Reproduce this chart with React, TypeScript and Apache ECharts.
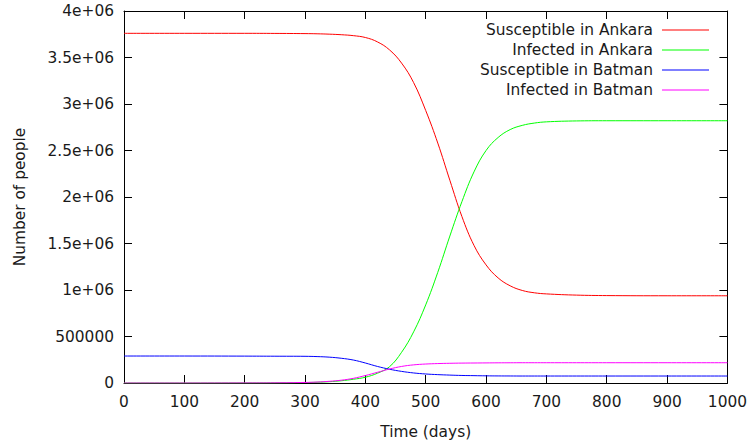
import React, { useEffect, useRef } from 'react';
import * as echarts from 'echarts';

const days = [0, 100, 200, 250, 300, 320, 340, 360, 380, 400, 420, 440, 460, 480, 500, 520, 540, 560, 580, 600, 620, 640, 660, 680, 700, 750, 800, 900, 1000];

const susceptibleAnkara = [3760000, 3760000, 3760000, 3759000, 3757000, 3755000, 3751000, 3745000, 3735000, 3715000, 3668000, 3582000, 3440000, 3230000, 2930000, 2580000, 2180000, 1790000, 1480000, 1270000, 1130000, 1045000, 995000, 970000, 958000, 945000, 940000, 938000, 938000];

const infectedAnkara = [0, 0, 1000, 2000, 5000, 8000, 14000, 24000, 40000, 62000, 105000, 175000, 330000, 550000, 840000, 1190000, 1580000, 1950000, 2270000, 2500000, 2640000, 2725000, 2770000, 2795000, 2808000, 2818000, 2820000, 2820000, 2820000];

const susceptibleBatman = [290000, 290000, 289000, 288000, 287000, 284000, 278000, 266000, 247000, 215000, 178000, 148000, 125000, 108000, 97000, 90000, 85000, 81000, 79000, 77000, 76000, 75500, 75000, 75000, 75000, 75000, 75000, 75000, 75000];

const infectedBatman = [0, 0, 1000, 2000, 6000, 10000, 18000, 30000, 50000, 80000, 115000, 150000, 178000, 195000, 204000, 209000, 212000, 214000, 215000, 216000, 217000, 217500, 218000, 218000, 218000, 218000, 218000, 218000, 218000];

const seriesNames = ['Susceptible in Ankara', 'Infected in Ankara', 'Susceptible in Batman', 'Infected in Batman'];
const seriesColors = ['#ff0000', '#00ff00', '#0000ff', '#ff00ff'];

const xAxisTitle = 'Time (days)';
const yAxisTitle = 'Number of people';

function formatY(v: number): string {
  if (v === 0) return '0';
  if (v < 1000000) return String(v);
  return (v / 1000000) + 'e+06';
}

export default function App() {
  const ref = useRef<HTMLDivElement>(null);
  useEffect(() => {
    document.body.style.margin = '0';
    const chart = echarts.init(ref.current!, null, { renderer: 'svg' });
    const font = 'DejaVu Sans';
    const fs = 15.4;
    const textColor = '#1a1a1a';
    const values = [susceptibleAnkara, infectedAnkara, susceptibleBatman, infectedBatman];
    const series = values.map((vals, k) => ({
      name: seriesNames[k],
      type: 'line',
      data: days.map((d, i) => [d, vals[i]]),
      showSymbol: false,
      symbol: 'none',
      smooth: 0.4,
      lineStyle: { color: seriesColors[k], width: 1 },
      itemStyle: { color: seriesColors[k] },
      z: 2 + k,
    }));
    const mkLine = () => ({ show: true, onZero: false, lineStyle: { color: '#000', width: 1 } });
    const mkTick = () => ({ show: true, inside: true, length: 8, lineStyle: { color: '#000', width: 1 } });
    chart.setOption({
      animation: false,
      backgroundColor: '#ffffff',
      grid: { left: 124, right: 22, top: 11, bottom: 63 },
      legend: {
        orient: 'vertical',
        right: 36,
        top: 15,
        align: 'right',
        icon: 'rect',
        itemWidth: 47,
        itemHeight: 1,
        itemGap: 0,
        textStyle: { fontFamily: font, fontSize: fs, color: textColor, lineHeight: 20, padding: [0, 4, 0, 0] },
        data: seriesNames,
      },
      xAxis: [
        {
          type: 'value', min: 0, max: 1000, interval: 100, position: 'bottom',
          axisLine: mkLine(), axisTick: mkTick(), splitLine: { show: false },
          axisLabel: { fontFamily: font, fontSize: fs, color: textColor, margin: 11, formatter: (v: number) => String(v) },
          name: xAxisTitle, nameLocation: 'middle', nameGap: 41,
          nameTextStyle: { fontFamily: font, fontSize: fs, color: textColor },
        },
        {
          type: 'value', min: 0, max: 1000, interval: 100, position: 'top',
          axisLine: mkLine(), axisTick: mkTick(), splitLine: { show: false }, axisLabel: { show: false },
        },
      ],
      yAxis: [
        {
          type: 'value', min: 0, max: 4000000, interval: 500000, position: 'left',
          axisLine: mkLine(), axisTick: mkTick(), splitLine: { show: false },
          axisLabel: { fontFamily: font, fontSize: fs, color: textColor, margin: 10, formatter: formatY },
          name: yAxisTitle, nameLocation: 'middle', nameGap: 97,
          nameTextStyle: { fontFamily: font, fontSize: fs, color: textColor },
        },
        {
          type: 'value', min: 0, max: 4000000, interval: 500000, position: 'right',
          axisLine: mkLine(), axisTick: mkTick(), splitLine: { show: false }, axisLabel: { show: false },
        },
      ],
      series,
    });
    return () => chart.dispose();
  }, []);
  return <div ref={ref} style={{ width: 750, height: 446 }} />;
}
